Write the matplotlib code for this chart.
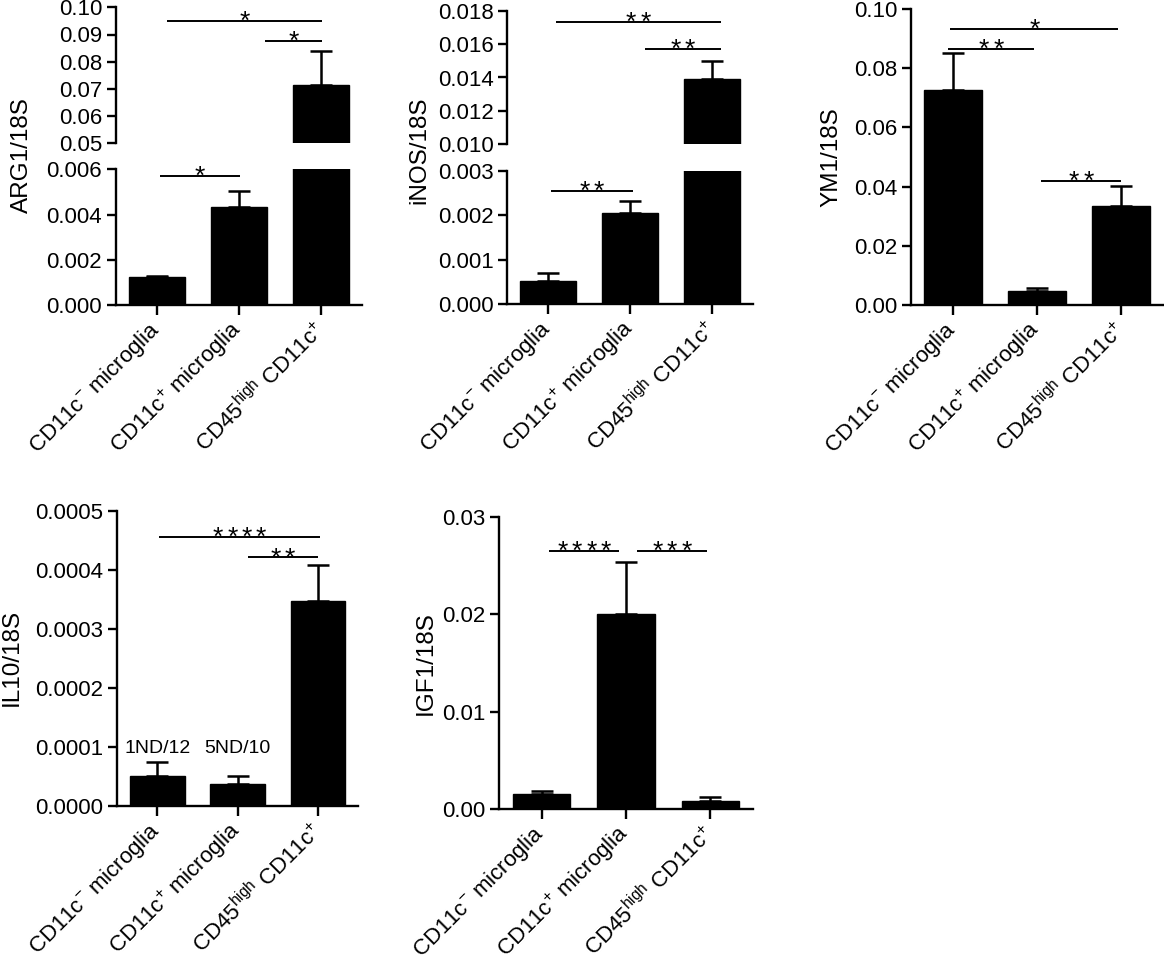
import matplotlib
matplotlib.use("Agg")
import matplotlib.pyplot as plt
import numpy as np

plt.rcParams['font.family'] = ['Liberation Sans', 'DejaVu Sans']
plt.rcParams['mathtext.fontset'] = 'custom'
plt.rcParams['mathtext.rm'] = 'Liberation Sans'
plt.rcParams['mathtext.it'] = 'Liberation Sans:italic'
plt.rcParams['mathtext.bf'] = 'Liberation Sans:bold'

# ---------------- data ----------------
categories = ['CD11c$^{-}$ microglia', 'CD11c$^{+}$ microglia',
              'CD45$^{\\mathrm{high}}$ CD11c$^{+}$']

arg1_mean = [0.00125, 0.00434, 0.0714]
arg1_err = [0.00004, 0.00070, 0.0125]

inos_mean = [0.00052, 0.00204, 0.01389]
inos_err = [0.00019, 0.00028, 0.00112]

ym1_mean = [0.0725, 0.0047, 0.0335]
ym1_err = [0.0125, 0.0010, 0.0067]

il10_mean = [0.0000513, 0.0000378, 0.0003476]
il10_err = [0.0000237, 0.0000130, 0.0000604]
il10_notes = ['1ND/12', '5ND/10', '']

igf1_mean = [0.00151, 0.01998, 0.00085]
igf1_err = [0.00037, 0.00537, 0.00035]

W, H = 1164, 964
fig = plt.figure(figsize=(W / 100, H / 100), dpi=100)


def px_axes(x0, y0, x1, y1):
    """Axes from pixel box (left, top, right, bottom)."""
    return fig.add_axes([x0 / W, 1 - y1 / H, (x1 - x0) / W, (y1 - y0) / H])


TICKFS = 16
LW = 1.7


def style(ax, bottom=True):
    for s in ['top', 'right']:
        ax.spines[s].set_visible(False)
    ax.spines['left'].set_linewidth(LW)
    ax.spines['bottom'].set_linewidth(LW)
    if not bottom:
        ax.spines['bottom'].set_visible(False)
        ax.tick_params(axis='x', bottom=False, labelbottom=False)
    ax.tick_params(axis='y', direction='out', length=6.5, width=LW,
                   labelsize=TICKFS, pad=3.5)
    ax.tick_params(axis='x', direction='out', length=7, width=LW,
                   labelsize=TICKFS, pad=8)
    ax.set_xlim(-0.5, 2.5)


def bars(ax, means, errs):
    x = np.arange(len(means))
    ax.bar(x, means, width=0.68, color='black', edgecolor='black', zorder=2)
    ax.errorbar(x, means, yerr=[np.zeros(len(errs)), errs], fmt='none',
                ecolor='black', elinewidth=1.8, capsize=8, capthick=1.8,
                zorder=1)


def xlabels(ax):
    ax.set_xticks(np.arange(len(categories)))
    ax.set_xticklabels(categories, rotation=45, ha='right', va='center',
                       rotation_mode='anchor', fontsize=16)


def sig(ax, x1, x2, y, n):
    ax.plot([x1, x2], [y, y], color='black', lw=1.4, clip_on=False,
            solid_capstyle='butt')
    pitch = 10.3
    for k in range(n):
        off = (k - (n - 1) / 2) * pitch
        ax.annotate('*', xy=((x1 + x2) / 2, y), xytext=(off, -5.8),
                    textcoords='offset points', ha='center', va='baseline',
                    fontsize=19, annotation_clip=False)


def fmt(ax, ticks, dec):
    ax.set_yticks(ticks)
    ax.set_yticklabels([f'{t:.{dec}f}' for t in ticks])


def ylabel(x, y, txt):
    fig.text(x / W, 1 - y / H, txt, rotation=90, ha='center', va='center',
             fontsize=17.5)


# ---------------- ARG1 (broken axis) ----------------
a1_lo = px_axes(116, 169.3, 362, 305)
a1_hi = px_axes(116, 7.3, 362, 143.3)
for ax in (a1_lo, a1_hi):
    bars(ax, arg1_mean, arg1_err)
style(a1_lo)
style(a1_hi, bottom=False)
a1_lo.set_ylim(0, 0.006)
fmt(a1_lo, [0, 0.002, 0.004, 0.006], 3)
a1_hi.set_ylim(0.05, 0.10)
fmt(a1_hi, [0.05, 0.06, 0.07, 0.08, 0.09, 0.10], 2)
xlabels(a1_lo)
sig(a1_lo, 0.04, 1.01, 0.0057, 1)
sig(a1_hi, 0.12, 2.01, 0.0951, 1)
sig(a1_hi, 1.32, 2.01, 0.0877, 1)
ylabel(22, 155, 'ARG1/18S')

# ---------------- iNOS (broken axis) ----------------
i_lo = px_axes(507.3, 170.7, 753, 304.3)
i_hi = px_axes(507.3, 10.7, 753, 144.3)
for ax in (i_lo, i_hi):
    bars(ax, inos_mean, inos_err)
style(i_lo)
style(i_hi, bottom=False)
i_lo.set_ylim(0, 0.003)
fmt(i_lo, [0, 0.001, 0.002, 0.003], 3)
i_hi.set_ylim(0.010, 0.018)
fmt(i_hi, [0.010, 0.012, 0.014, 0.016, 0.018], 3)
xlabels(i_lo)
sig(i_lo, 0.03, 1.03, 0.00255, 2)
sig(i_hi, 0.09, 2.11, 0.01734, 2)
sig(i_hi, 1.18, 2.11, 0.01571, 2)
ylabel(419, 150, 'iNOS/18S')

# ---------------- YM1 ----------------
ym = px_axes(911, 9, 1163, 305)
bars(ym, ym1_mean, ym1_err)
style(ym)
ym.set_ylim(0, 0.10)
fmt(ym, [0, 0.02, 0.04, 0.06, 0.08, 0.10], 2)
xlabels(ym)
sig(ym, -0.03, 1.97, 0.0932, 1)
sig(ym, -0.06, 0.97, 0.0865, 2)
sig(ym, 1.05, 2.0, 0.0419, 2)
ylabel(831, 157, 'YM1/18S')

# ---------------- IL10 ----------------
il = px_axes(117.3, 510.7, 358, 806)
bars(il, il10_mean, il10_err)
style(il)
il.set_ylim(0, 0.0005)
fmt(il, [0, 0.0001, 0.0002, 0.0003, 0.0004, 0.0005], 4)
xlabels(il)
for i, note in enumerate(il10_notes):
    if note:
        il.text(i, 0.0000897, note, ha='center', va='baseline', fontsize=14)
sig(il, 0.02, 2.03, 0.000455, 4)
sig(il, 1.13, 2.0, 0.000421, 2)
ylabel(12, 657, 'IL10/18S')

# ---------------- IGF1 ----------------
ig = px_axes(499.3, 516.7, 752.7, 809)
bars(ig, igf1_mean, igf1_err)
style(ig)
ig.set_ylim(0, 0.03)
fmt(ig, [0, 0.01, 0.02, 0.03], 2)
xlabels(ig)
sig(ig, 0.09, 0.92, 0.02645, 4)
sig(ig, 1.13, 1.96, 0.0265, 3)
ylabel(426, 663, 'IGF1/18S')

fig.savefig('out.png', dpi=100, facecolor='white')
